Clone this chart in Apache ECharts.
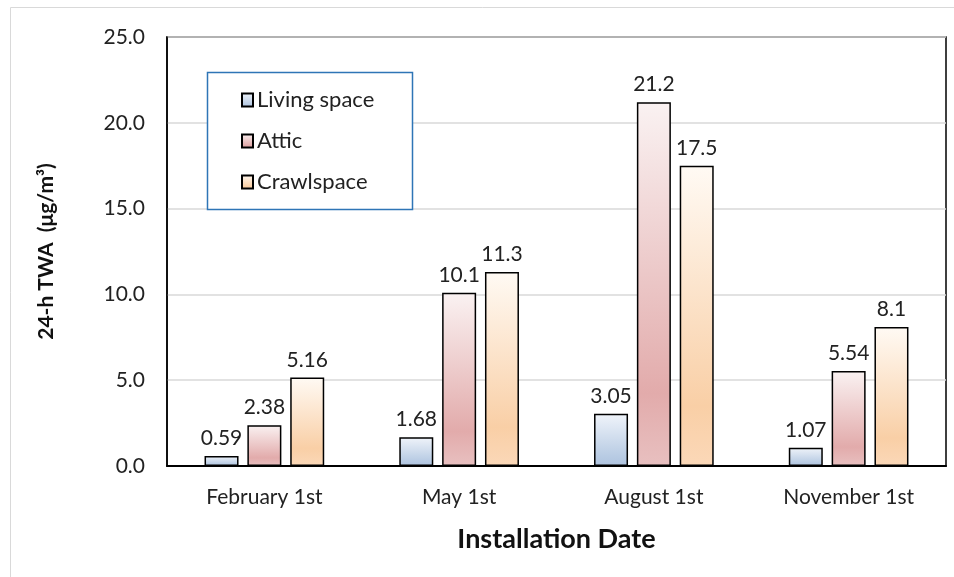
<!DOCTYPE html>
<html>
<head>
<meta charset="utf-8">
<script src="https://cdn.jsdelivr.net/npm/echarts@6/dist/echarts.min.js"></script>
<style>
    html, body { margin: 0; padding: 0; background: #fff; }
    #chart { width: 954px; height: 577px; }
</style>
</head>
<body>
<div id="chart"></div>
<script>
    const categories = ['February 1st', 'May 1st', 'August 1st', 'November 1st']
    const livingSpace = [0.59, 1.68, 3.05, 1.07]
    const attic = [2.38, 10.1, 21.2, 5.54]
    const crawlspace = [5.16, 11.3, 17.5, 8.1]
    const seriesNames = ['Living space', 'Attic', 'Crawlspace']

    const font = 'Lato, "Open Sans", sans-serif'

    const grad = (top, mid, bottom) => ({
        type: 'linear', x: 0, y: 0, x2: 0, y2: 1,
        colorStops: [
            { offset: 0, color: top },
            { offset: 0.8, color: mid },
            { offset: 1, color: bottom }
        ]
    })

    const makeSeries = (name, data, fill) => ({
        name,
        type: 'bar',
        data,
        barWidth: 34,
        barGap: '26%',
        itemStyle: { color: fill, borderColor: '#000', borderWidth: 1.5 },
        label: {
            show: true,
            position: 'top',
            distance: 7,
            fontFamily: font,
            fontSize: 21,
            color: '#222',
            formatter: p => String(p.value)
        }
    })

    const chart = echarts.init(document.getElementById('chart'))
    chart.setOption({
        animation: false,
        textStyle: { fontFamily: font },
        grid: {
            left: 167, right: 8, top: 37, bottom: 111,
            show: true, borderColor: '#000', borderWidth: 1.5
        },
        graphic: [
            {
                type: 'rect', z: -1,
                shape: { x: 10.5, y: 7.5, width: 960, height: 600 },
                style: { fill: 'none', stroke: '#d9d9d9', lineWidth: 1 }
            },
            {
                type: 'rect', z: 10,
                shape: { x: 207.5, y: 72.5, width: 205, height: 137 },
                style: { fill: '#fff', stroke: '#2e75b6', lineWidth: 1.5 }
            }
        ],
        legend: {
            orient: 'vertical',
            left: 236,
            top: 84,
            z: 20,
            itemGap: 19,
            itemWidth: 11,
            itemHeight: 13,
            icon: 'rect',
            data: seriesNames,
            textStyle: { fontFamily: font, fontSize: 22, color: '#222', padding: [0, 0, 0, -1] }
        },
        xAxis: {
            type: 'category',
            data: categories,
            name: 'Installation Date',
            nameLocation: 'middle',
            nameGap: 60,
            nameTextStyle: { fontFamily: font, fontSize: 27, fontWeight: 'bold', color: '#111' },
            axisLine: { lineStyle: { color: '#000', width: 2 } },
            axisTick: { show: false },
            axisLabel: { fontFamily: font, fontSize: 21, color: '#222', margin: 21 }
        },
        yAxis: {
            type: 'value',
            min: 0,
            max: 25,
            interval: 5,
            name: '24-h TWA  (μg/m³)',
            nameLocation: 'middle',
            nameGap: 110,
            nameTextStyle: { fontFamily: font, fontSize: 21, fontWeight: 'bold', color: '#111' },
            axisLine: { show: true, lineStyle: { color: '#000', width: 1.5 } },
            axisTick: { show: false },
            splitLine: { lineStyle: { color: '#d9d9d9', width: 1.5 } },
            axisLabel: {
                fontFamily: font, fontSize: 21, color: '#222', margin: 22,
                formatter: v => v.toFixed(1)
            }
        },
        series: [
            makeSeries(seriesNames[0], livingSpace, grad('#f0f4fa', '#b9cce4', '#aec3df')),
            makeSeries(seriesNames[1], attic, grad('#faf2f2', '#e2abab', '#e8c0c0')),
            makeSeries(seriesNames[2], crawlspace, grad('#fffaf4', '#f9cfa6', '#fbd8b8'))
        ]
    })
</script>
</body>
</html>
